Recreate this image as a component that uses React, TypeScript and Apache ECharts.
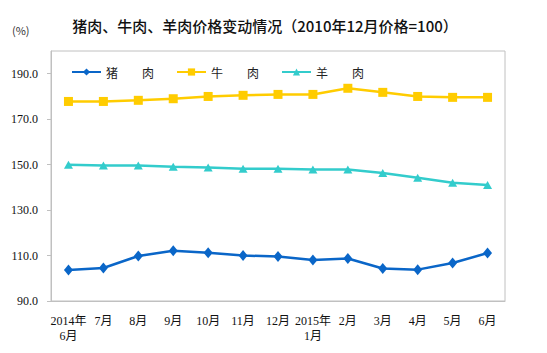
import React, { useEffect, useRef } from "react";
import * as echarts from "echarts";

const categories = [
  "2014年\n6月", "7月", "8月", "9月", "10月", "11月", "12月",
  "2015年\n1月", "2月", "3月", "4月", "5月", "6月",
];
const porkValues = [103.6, 104.5, 109.8, 112.1, 111.2, 110.0, 109.6, 108.0, 108.7, 104.3, 103.8, 106.7, 111.1];
const beefValues = [177.8, 177.8, 178.3, 179.0, 180.0, 180.5, 180.9, 180.9, 183.6, 181.8, 180.0, 179.6, 179.6];
const muttonValues = [150.0, 149.6, 149.6, 149.1, 148.7, 148.2, 148.2, 147.9, 147.9, 146.3, 144.2, 142.0, 141.0];
const yTickValues = [90, 110, 130, 150, 170, 190];
const seriesNames = ["猪　　肉", "牛　　肉", "羊　　肉"];
const titleText = "猪肉、牛肉、羊肉价格变动情况（2010年12月价格=100）";
const unitText = "(%)";

const serifFont = "'Times New Roman', 'Liberation Serif', 'Noto Sans CJK SC', serif";
const sansFont = "'Noto Sans CJK SC', 'Noto Sans', sans-serif";

export default function App() {
  const ref = useRef<HTMLDivElement>(null);
  useEffect(() => {
    document.body.style.margin = "0";
    if (!ref.current) return;
    const chart = echarts.init(ref.current, undefined, { renderer: "svg" });
    const mk = (name: string, data: number[], color: string, symbol: string, size: any) => ({
      name,
      type: "line",
      data,
      symbol,
      symbolSize: size,
      showSymbol: true,
      lineStyle: { color, width: 2.5 },
      itemStyle: { color },
    });
    chart.setOption({
      animation: false,
      title: {
        text: titleText,
        left: 260,
        top: 13,
        textAlign: "center",
        textStyle: { fontSize: 15, fontWeight: 500, color: "#111", fontFamily: sansFont },
      },
      graphic: [
        {
          type: "text",
          left: 12,
          top: 24,
          style: { text: unitText, fontSize: 11, fill: "#333", fontFamily: sansFont },
        },
      ],
      legend: {
        left: 66,
        top: 61,
        itemWidth: 29,
        itemHeight: 9,
        itemGap: 22,
        textStyle: { fontSize: 12, color: "#222", fontFamily: sansFont },
        data: seriesNames,
      },
      grid: {
        left: 51,
        right: 42,
        top: 51,
        bottom: 52,
        show: true,
        borderColor: "#c0c0c0",
        borderWidth: 1,
      },
      xAxis: {
        type: "category",
        data: categories,
        boundaryGap: true,
        axisLine: { lineStyle: { color: "#c0c0c0" } },
        axisTick: { show: false },
        axisLabel: {
          interval: 0,
          margin: 12,
          fontSize: 12,
          lineHeight: 15,
          color: "#111",
          fontFamily: serifFont,
        },
      },
      yAxis: {
        type: "value",
        min: 90,
        max: 200,
        axisLine: { show: true, lineStyle: { color: "#c0c0c0" } },
        axisTick: {
          show: true,
          inside: false,
          length: 4,
          customValues: yTickValues,
          lineStyle: { color: "#c0c0c0" },
        },
        splitLine: { show: false },
        axisLabel: {
          customValues: yTickValues,
          margin: 13,
          fontSize: 12,
          color: "#111",
          fontFamily: serifFont,
          formatter: (v: number) => v.toFixed(1),
        },
      },
      series: [
        mk(seriesNames[0], porkValues, "#0a66c8", "diamond", [9, 11]),
        mk(seriesNames[1], beefValues, "#ffcc00", "rect", 9),
        mk(seriesNames[2], muttonValues, "#33cccc", "triangle", [9, 8]),
      ],
    });
    return () => chart.dispose();
  }, []);
  return <div ref={ref} style={{ width: 547, height: 353 }} />;
}
